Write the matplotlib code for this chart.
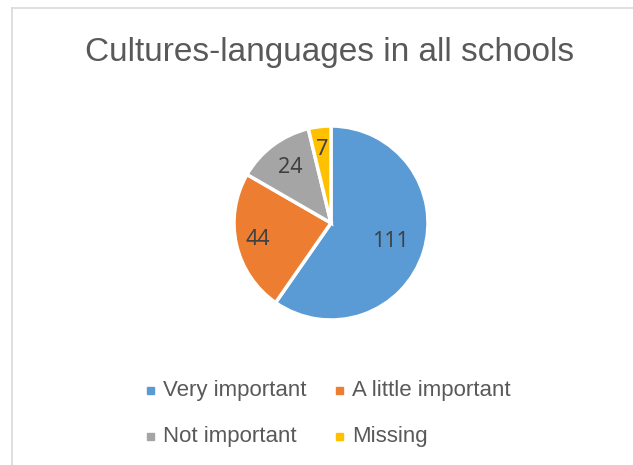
import numpy as np
import matplotlib.pyplot as plt
from matplotlib.lines import Line2D
from matplotlib.patches import Rectangle

title = 'Cultures-languages in all schools'
categories = ['Very important', 'A little important', 'Not important', 'Missing']
counts = [111, 44, 24, 7]
colors = ['#5B9BD5', '#ED7D31', '#A5A5A5', '#FFC000']
# how far out each count label sits, as a fraction of the radius
label_r = [0.64, 0.77, 0.71, 0.76]

plt.rcParams['font.family'] = ['Liberation Sans', 'DejaVu Sans']

fig = plt.figure(figsize=(6.33, 4.65), dpi=100)
W, H = 633, 465

# chart area outline (only left and top edges show)
fig.add_artist(Line2D([11.5 / W, 11.5 / W], [0, 1 - 8.5 / H], transform=fig.transFigure,
                      color='#D9D9D9', lw=1.2))
fig.add_artist(Line2D([11.5 / W, 1], [1 - 8.5 / H, 1 - 8.5 / H], transform=fig.transFigure,
                      color='#D9D9D9', lw=1.2))

fig.text(330 / W, 1 - 52 / H, title, ha='center', va='center', fontsize=24, color='#595959')

# pie centred at (331, 223) px, radius ~97 px
cx, cy, r = 331, 223, 97
ax = fig.add_axes([(cx - r) / W, 1 - (cy + r) / H, 2 * r / W, 2 * r / H])
wedges, _ = ax.pie(counts, colors=colors, startangle=90, counterclock=False,
                   wedgeprops=dict(edgecolor='white', linewidth=2.5))
ax.set_aspect('equal')
ax.set_xlim(-1, 1)
ax.set_ylim(-1, 1)

for w, val, rr in zip(wedges, counts, label_r):
    mid = np.deg2rad((w.theta1 + w.theta2) / 2)
    ax.text(rr * np.cos(mid), rr * np.sin(mid), str(val), ha='center', va='center',
            fontsize=15.5, color='#404040', family=['Noto Sans', 'DejaVu Sans'])

# legend, two rows of two
leg_x = [150, 339]
leg_y = [390, 436]
for i, (lab, col) in enumerate(zip(categories, colors)):
    x = leg_x[i % 2]
    y = leg_y[i // 2]
    fig.add_artist(Rectangle(((x - 3.5) / W, 1 - (y + 3.5) / H), 7 / W, 7 / H,
                             transform=fig.transFigure, color=col))
    fig.text((x + 13) / W, 1 - y / H, lab, ha='left', va='center', fontsize=16, color='#595959')

fig.savefig('out.png', dpi=100)
